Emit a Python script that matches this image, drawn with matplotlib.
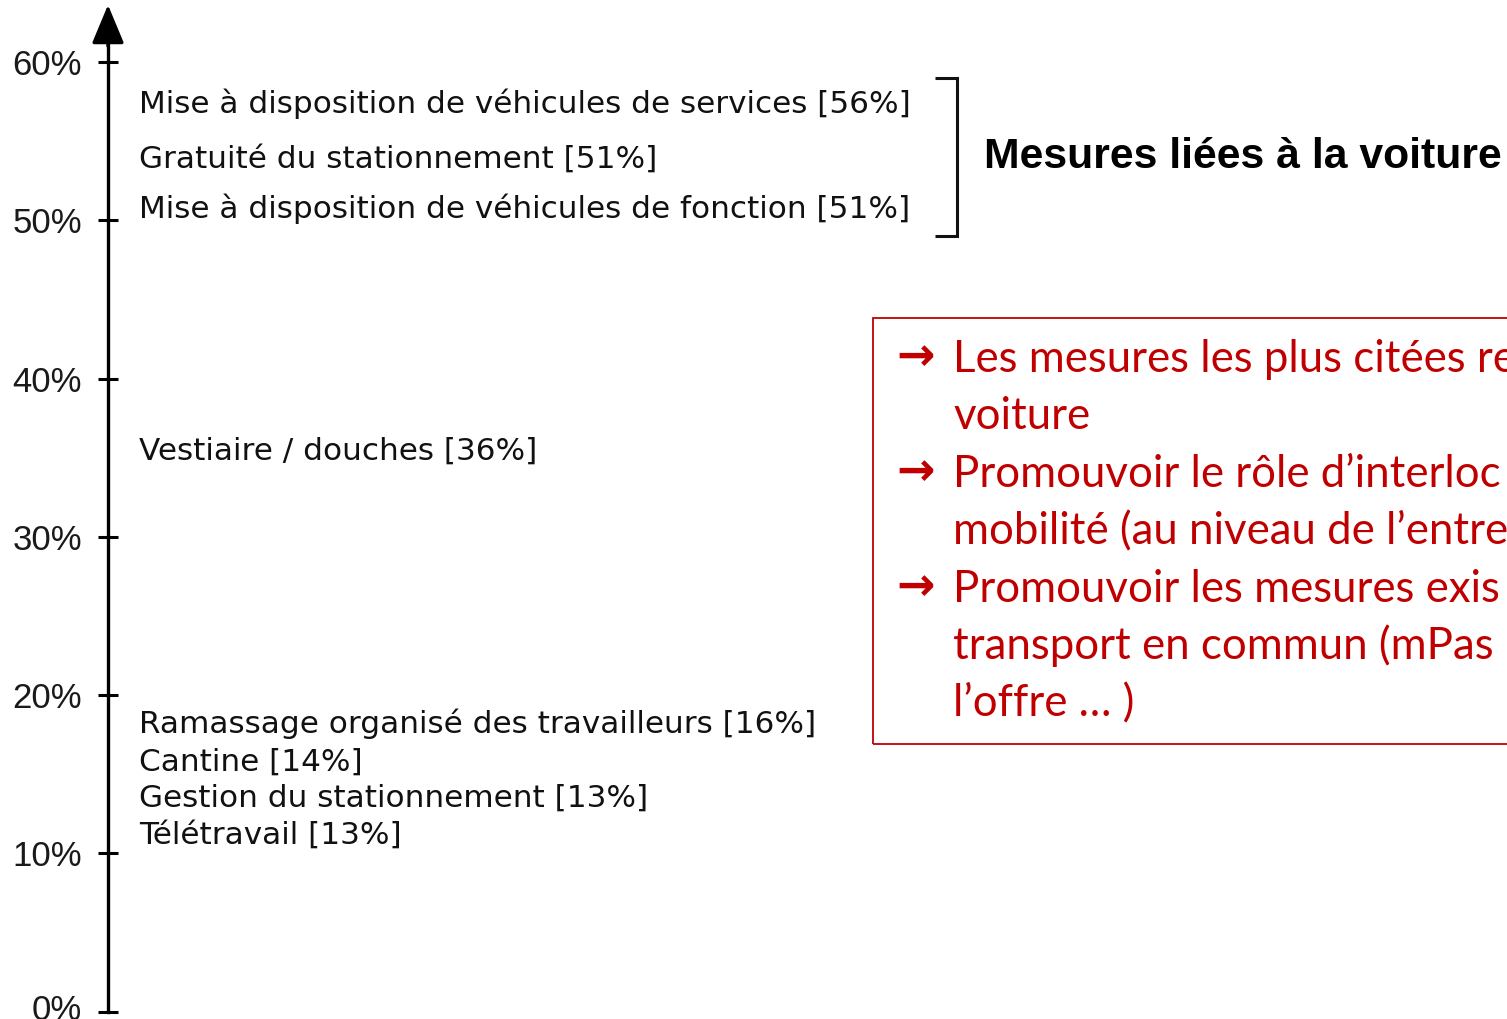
import matplotlib.pyplot as plt
from matplotlib.patches import Rectangle
from matplotlib.transforms import ScaledTranslation

# share of respondents citing each measure (%)
measures = [
    'Mise à disposition de véhicules de services',
    'Gratuité du stationnement',
    'Mise à disposition de véhicules de fonction',
    'Vestiaire / douches',
    'Ramassage organisé des travailleurs',
    'Cantine',
    'Gestion du stationnement',
    'Télétravail',
]
shares = [56, 51, 51, 36, 16, 14, 13, 13]

# labels are spread out vertically so neighbours do not collide
label_y = [56.77, 53.29, 50.13, 34.85, 17.63, 15.22, 12.95, 10.6]

yticks = [0, 10, 20, 30, 40, 50, 60]
car_group = 'Mesures liées à la voiture'

# conclusions box (runs off the right edge of the slide)
note_arrows = ['→', '', '→', '', '→', '', '']
note_lines = [
    'Les mesures les plus citées re',
    'voiture',
    'Promouvoir le rôle d’interloc',
    'mobilité (au niveau de l’entre',
    'Promouvoir les mesures exis',
    'transport en commun (mPas',
    'l’offre … )',
]

RED = '#C00000'
W, H = 1507, 1019

fig = plt.figure(figsize=(W / 100, H / 100), dpi=100)
ax = fig.add_axes([0, 0, 1, 1])
ax.set_xlim(0, W)
ax.set_ylim(-0.46, 63.91)
ax.patch.set_alpha(0)

for s in ['top', 'right', 'bottom']:
    ax.spines[s].set_visible(False)
ax.spines['left'].set_position(('data', 108))
ax.spines['left'].set_bounds(0, 62)
ax.spines['left'].set_linewidth(2.4)
ax.set_xticks([])
ax.set_yticks(yticks)
ax.set_yticklabels([f'{v}%' for v in yticks], family='Liberation Sans',
                   fontsize=25, color='#1a1a1a')
ax.tick_params(axis='y', direction='inout', length=13.7, width=2.2, pad=12)

# nudge the bottom label up a little so it stays on the page
lab0 = ax.get_yticklabels()[0]
lab0.set_transform(lab0.get_transform() + ScaledTranslation(0, 0.05, fig.dpi_scale_trans))

# arrow head on top of the axis
ax.annotate('', xy=(108, 63.6), xytext=(108, 61.0),
            arrowprops=dict(arrowstyle='-|>,head_length=2.4,head_width=1.0',
                            lw=2.4, color='black', shrinkA=0, shrinkB=0))

for name, val, y in zip(measures, shares, label_y):
    ax.text(139, y, f'{name} [{val}%]', family='DejaVu Sans', fontsize=22.4,
            color='#111111', va='baseline', ha='left')

# bracket grouping the car-related measures
ax.plot([935, 957, 957, 935], [58.98, 58.98, 49.0, 49.0], color='#111111',
        lw=2.2, solid_joinstyle='miter', solid_capstyle='butt')
ax.text(984, 53.3, car_group, family='Liberation Sans', fontweight='bold',
        fontsize=30.8, color='black', va='baseline', ha='left')

fig.add_artist(Rectangle((873 / W, 1 - 744 / H), 0.6, (744 - 318) / H,
                         transform=fig.transFigure, fill=False,
                         edgecolor=RED, lw=1.3))

for i, (arrow, line) in enumerate(zip(note_arrows, note_lines)):
    base = 1 - (371.7 + 57.5 * i) / H
    if arrow:
        fig.text(916 / W, base + 0.002, arrow, family='DejaVu Sans',
                 fontweight='bold', fontsize=33, color=RED,
                 ha='center', va='baseline')
    fig.text(953 / W, base, line, family=['Lato', 'DejaVu Sans'], fontsize=31.5,
             color=RED, ha='left', va='baseline')

fig.savefig('out.png', dpi=100, facecolor='white')
